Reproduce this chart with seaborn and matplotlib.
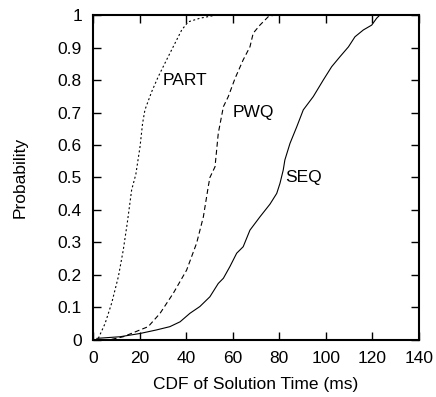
import pandas as pd
import matplotlib
matplotlib.use("Agg")
import matplotlib.pyplot as plt
import seaborn as sns

# valores (ms, probabilidad)
part_x = [2.3, 5.2, 8, 10.9, 13, 14.7, 16.6, 18.4, 20.2, 21.3, 22.3, 25.2, 28, 31.6, 35.2, 38.1, 40.9, 45.9, 53]
part_y = [0.005, 0.051, 0.113, 0.195, 0.277, 0.359, 0.462, 0.51, 0.595, 0.667, 0.708, 0.764, 0.81, 0.862,
          0.913, 0.954, 0.979, 0.99, 1.0]

pwq_x = [8, 13, 20.2, 23.7, 28.8, 34.5, 40.2, 44.5, 47.4, 49.5, 50.2, 52.4, 53.8, 56, 58.1, 61, 64.5, 67.4,
         68.8, 71.7, 75.3, 78]
pwq_y = [0.002, 0.01, 0.031, 0.041, 0.082, 0.144, 0.215, 0.298, 0.379, 0.472, 0.5, 0.533, 0.636, 0.718,
         0.749, 0.805, 0.862, 0.902, 0.944, 0.969, 0.995, 1.0]

seq_x = [1.6, 11.6, 20.2, 27.3, 33, 37.4, 41.6, 45.9, 50.2, 53.8, 56, 58.8, 61.7, 64.5, 67.4, 71.7, 76, 78.9,
         80.3, 81.7, 82.4, 84.6, 87.5, 90.3, 94.6, 98.9, 102.5, 106.1, 109.7, 112.5, 116.1, 119.7, 121.8, 123.2]
seq_y = [0.005, 0.01, 0.02, 0.031, 0.041, 0.056, 0.082, 0.103, 0.133, 0.174, 0.19, 0.226, 0.267, 0.287,
         0.338, 0.379, 0.418, 0.451, 0.482, 0.523, 0.554, 0.605, 0.656, 0.708, 0.749, 0.8, 0.841, 0.872,
         0.902, 0.933, 0.954, 0.969, 0.99, 1.0]

etiquetas = ["PART", "PWQ", "SEQ"]
x_ticks = [0, 20, 40, 60, 80, 100, 120, 140]
y_ticks = [0, 0.1, 0.2, 0.3, 0.4, 0.5, 0.6, 0.7, 0.8, 0.9, 1]
y_tick_labels = ["0", "0.1", "0.2", "0.3", "0.4", "0.5", "0.6", "0.7", "0.8", "0.9", "1"]

datos = pd.concat([
    pd.DataFrame({"t": part_x, "p": part_y, "serie": "PART"}),
    pd.DataFrame({"t": pwq_x, "p": pwq_y, "serie": "PWQ"}),
    pd.DataFrame({"t": seq_x, "p": seq_y, "serie": "SEQ"}),
], ignore_index=True)

sns.set_style("ticks")
plt.rcParams["font.family"] = ["Liberation Sans", "DejaVu Sans"]
plt.rcParams["text.color"] = "black"
plt.rcParams["axes.labelcolor"] = "black"
tam = 12.5

fig = plt.figure(figsize=(4.36, 3.97), dpi=100)
ax = fig.add_axes([0.2133, 0.1436, 0.7477, 0.8186])

sns.lineplot(data=datos, x="t", y="p", hue="serie", style="serie",
             palette={"PART": "black", "PWQ": "black", "SEQ": "black"},
             dashes={"PART": (1.8, 2.2), "PWQ": (4.5, 2.8), "SEQ": ""},
             linewidth=0.8, sort=False, estimator=None, legend=False, ax=ax)

# etiquetas de las curvas
ax.text(29.9, 0.80, "PART", fontsize=tam, va="center", ha="left", color="black")
ax.text(60, 0.70, "PWQ", fontsize=tam, va="center", ha="left", color="black")
ax.text(82.4, 0.50, "SEQ", fontsize=tam, va="center", ha="left", color="black")

ax.set_xlim(0, 140)
ax.set_ylim(0, 1)
ax.set_xticks(x_ticks)
ax.set_yticks(y_ticks)
ax.set_yticklabels(y_tick_labels)
ax.tick_params(direction="in", length=6, width=1, top=True, right=True, labelsize=tam, pad=8,
               colors="black", labelcolor="black")
for s in ax.spines.values():
    s.set_linewidth(1.5)
    s.set_color("black")
ax.set_xlabel("CDF of Solution Time (ms)", fontsize=tam, color="black")
ax.set_ylabel("Probability", fontsize=tam, color="black")
ax.xaxis.set_label_coords(0.5, -0.115)
ax.yaxis.set_label_coords(-0.202, 0.5)

fig.savefig("out.png", dpi=100)
